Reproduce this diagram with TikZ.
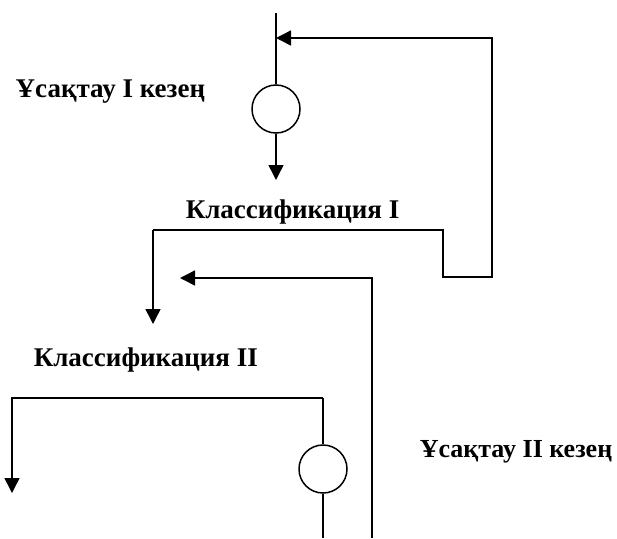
\documentclass[tikz,border=0pt]{standalone}
\usepackage{fontspec}
\setmainfont{Liberation Serif}
\usetikzlibrary{arrows.meta}
\begin{document}
\begin{tikzpicture}[x=1pt,y=-1pt,line width=1.5pt,
  flow/.style={-{Triangle[length=15pt,width=15pt]}},
  mill/.style={circle,draw,minimum size=48pt,inner sep=0pt,line width=1.5pt},
  lbl/.style={font=\bfseries\fontsize{27}{31}\selectfont,inner sep=0pt,anchor=base west}]
\useasboundingbox (0,0) rectangle (617,538);
% labels
\node[lbl] (t1) at (15,97) {Ұсақтау I кезең};
\node[lbl] (t2) at (185,218) {Классификация I};
\node[lbl] (t3) at (33,366) {Классификация II};
\node[lbl,anchor=base east,font=\bfseries\fontsize{26}{30}\selectfont] (t4) at (613,457) {Ұсақтау II кезең};
% mills
\node[mill] (c1) at (276,109) {};
\node[mill] (c2) at (323,469) {};
% coordinates
\coordinate (in1) at (276,13);
\coordinate (m1) at (276,38);
\coordinate (o1) at (276,180);
\coordinate (k1a) at (153,230);
\coordinate (k1b) at (443,230);
\coordinate (k1c) at (443,277);
\coordinate (r1a) at (492,277);
\coordinate (r1b) at (492,38);
\coordinate (k1o) at (153,324);
\coordinate (r2a) at (372,538);
\coordinate (r2b) at (372,278);
\coordinate (r2e) at (180,278);
\coordinate (k2a) at (12,398);
\coordinate (k2b) at (323,398);
\coordinate (k2o) at (12,493);
\coordinate (c2o) at (323,538);
% connectors
\draw (in1) -- (c1.north);
\draw[flow] (c1.south) -- (o1);
\draw[flow] (k1a) -- (k1o);
\draw[flow] (k1a) -- (k1b) -- (k1c) -- (r1a) -- (r1b) -- (m1);
\draw[flow] (r2a) -- (r2b) -- (r2e);
\draw[flow] (k2b) -- (k2a) -- (k2o);
\draw (k2b) -- (c2.north);
\draw (c2.south) -- (c2o);
\end{tikzpicture}
\end{document}
